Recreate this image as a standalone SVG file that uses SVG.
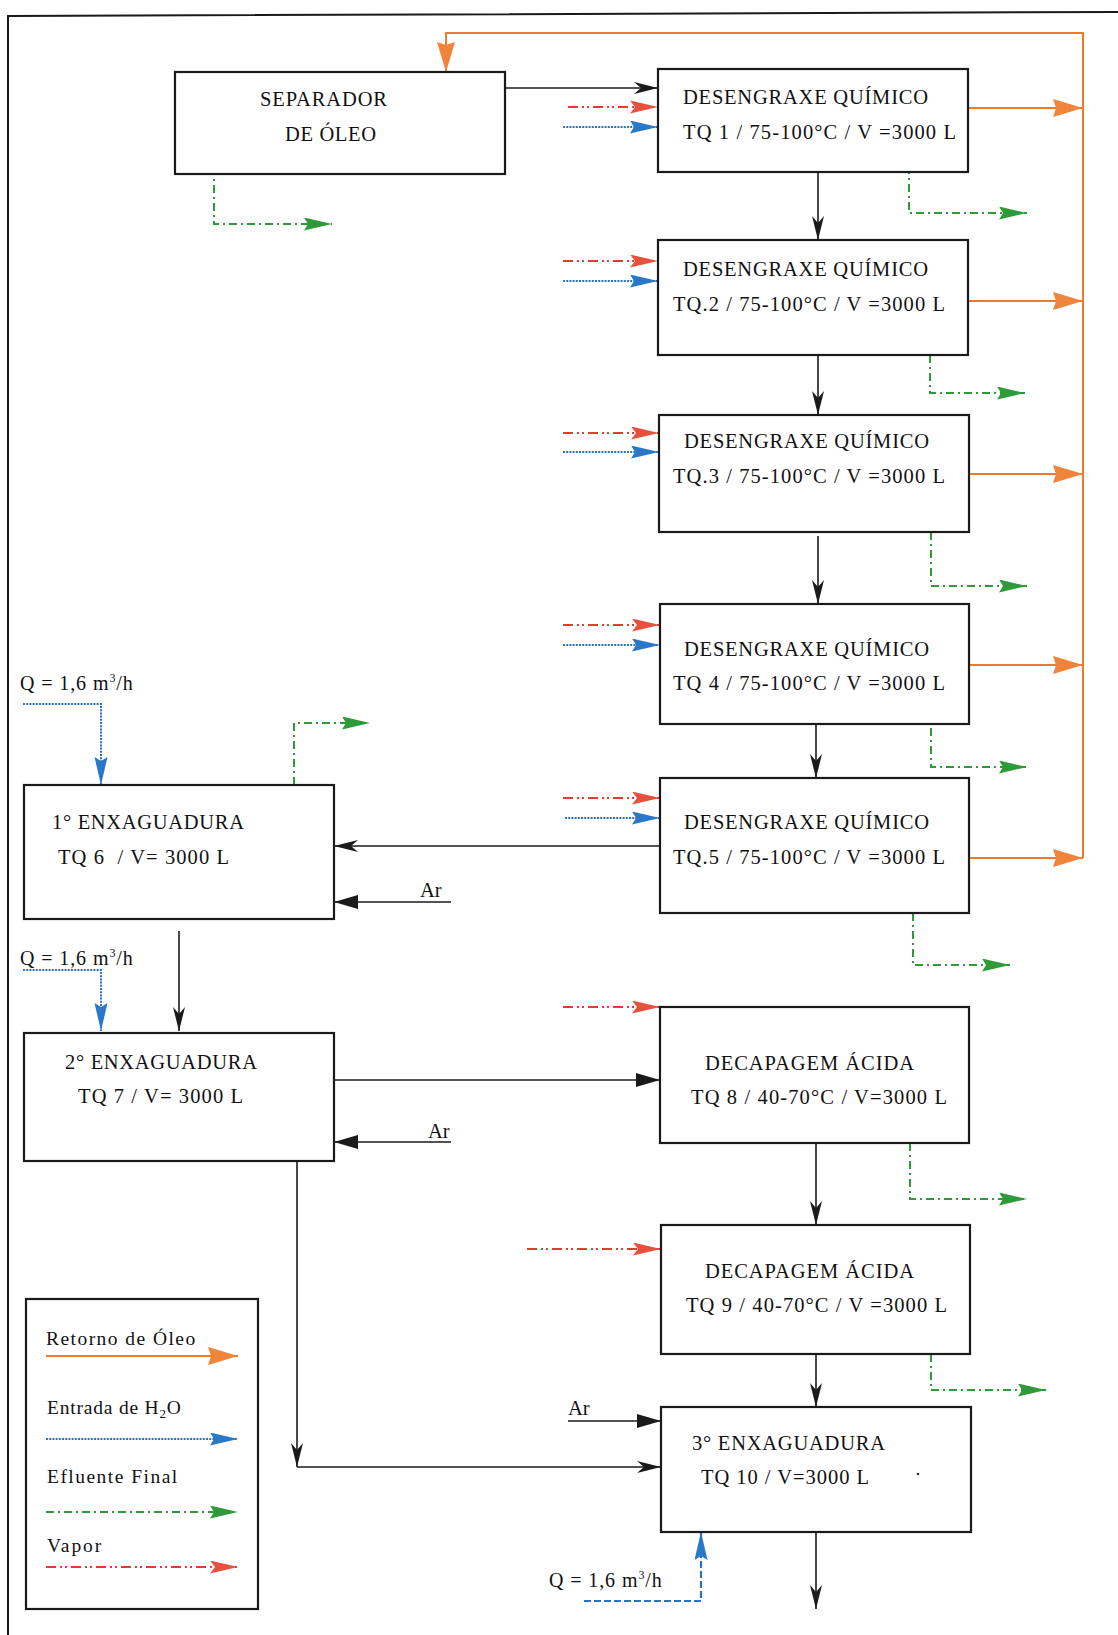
<svg xmlns="http://www.w3.org/2000/svg" width="1118" height="1635" viewBox="0 0 1118 1635">
  <style>
    .box { fill: #fff; stroke: #1a1a1a; stroke-width: 2.2; }
    .t { font-family: "Liberation Serif", "Times New Roman", serif; font-size: 20.5px; fill: #111; }
    .lg { font-family: "Liberation Serif", "Times New Roman", serif; font-size: 19.5px; fill: #111; letter-spacing: 0.8px; }
    .q { font-family: "Liberation Serif", "Times New Roman", serif; font-size: 20px; fill: #111; letter-spacing: 0.9px; }
    .blk { fill: none; stroke: #1a1a1a; stroke-width: 1.6; }
    .org { fill: none; stroke: #f07a28; stroke-width: 2; }
    .red { fill: none; stroke: #e23c30; stroke-width: 2; stroke-dasharray: 10 4 2 3 2 4; }
    .blu { fill: none; stroke: #2a72c6; stroke-width: 2; stroke-dasharray: 2 1.2; }
    .bld { fill: none; stroke: #2a72c6; stroke-width: 2.2; stroke-dasharray: 7 3; }
    .grn { fill: none; stroke: #2e9a3a; stroke-width: 2; stroke-dasharray: 8 4 2 4; }
  </style>
  <defs>
    <marker id="aOrg" markerUnits="userSpaceOnUse" markerWidth="32" markerHeight="20" refX="30" refY="9" orient="auto">
      <path d="M0,0 L30,9 L0,18 L3,9 z" fill="#f0843a"/>
    </marker>
    <marker id="aRed" markerUnits="userSpaceOnUse" markerWidth="30" markerHeight="14" refX="28" refY="6.5" orient="auto">
      <path d="M0,0 L28,6.5 L0,13 L5,6.5 z" fill="#e8503e"/>
    </marker>
    <marker id="aBlu" markerUnits="userSpaceOnUse" markerWidth="30" markerHeight="14" refX="28" refY="6.5" orient="auto">
      <path d="M0,0 L28,6.5 L0,13 L4,6.5 z" fill="#2a78c8"/>
    </marker>
    <marker id="aGrn" markerUnits="userSpaceOnUse" markerWidth="30" markerHeight="14" refX="28" refY="6.5" orient="auto">
      <path d="M0,0 L28,6.5 L0,13 L4,6.5 z" fill="#2e9a3a"/>
    </marker>
    <marker id="aBlk" markerUnits="userSpaceOnUse" markerWidth="26" markerHeight="14" refX="24" refY="6" orient="auto">
      <path d="M0,0 L24,6 L0,12 L7,6 z" fill="#1a1a1a"/>
    </marker>
    <marker id="aBlkF" markerUnits="userSpaceOnUse" markerWidth="26" markerHeight="16" refX="24" refY="7" orient="auto">
      <path d="M0,0 L24,7 L0,14 z" fill="#1a1a1a"/>
    </marker>
  </defs>

  <!-- page frame -->
  <path d="M8,1635 V16 L1118,12" fill="none" stroke="#1a1a1a" stroke-width="2"/>

  <!-- connectors -->
  <g id="connectors">
    <!-- oil return -->
    <path class="org" d="M1083,858 V33 H446 V72" marker-end="url(#aOrg)"/>
    <path class="org" d="M968,108 H1083" marker-end="url(#aOrg)"/>
    <path class="org" d="M968,301 H1083" marker-end="url(#aOrg)"/>
    <path class="org" d="M969,474 H1083" marker-end="url(#aOrg)"/>
    <path class="org" d="M969,665 H1083" marker-end="url(#aOrg)"/>
    <path class="org" d="M969,858 H1083" marker-end="url(#aOrg)"/>

    <!-- steam -->
    <path class="red" d="M568,107 H658" marker-end="url(#aRed)"/>
    <path class="red" d="M563,261 H658" marker-end="url(#aRed)"/>
    <path class="red" d="M563,433 H659" marker-end="url(#aRed)"/>
    <path class="red" d="M563,625 H660" marker-end="url(#aRed)"/>
    <path class="red" d="M563,798 H660" marker-end="url(#aRed)"/>
    <path class="red" d="M563,1007 H660" marker-end="url(#aRed)"/>
    <path class="red" d="M527,1249 H661" marker-end="url(#aRed)"/>

    <!-- water inlet -->
    <path class="blu" d="M563,127 H658" marker-end="url(#aBlu)"/>
    <path class="blu" d="M563,281 H658" marker-end="url(#aBlu)"/>
    <path class="blu" d="M563,452 H659" marker-end="url(#aBlu)"/>
    <path class="blu" d="M563,645 H660" marker-end="url(#aBlu)"/>
    <path class="blu" d="M565,818 H660" marker-end="url(#aBlu)"/>
    <path class="blu" d="M23,704 H101 V785" marker-end="url(#aBlu)"/>
    <path class="blu" d="M23,970 H101 V1031" marker-end="url(#aBlu)"/>
    <path class="bld" d="M584,1601 H701 V1532" marker-end="url(#aBlu)"/>

    <!-- final effluent -->
    <path class="grn" d="M214,167 V224 H332" marker-end="url(#aGrn)"/>
    <path class="grn" d="M909,166 V213 H1027" marker-end="url(#aGrn)"/>
    <path class="grn" d="M930,355 V393 H1025" marker-end="url(#aGrn)"/>
    <path class="grn" d="M931,532 V586 H1027" marker-end="url(#aGrn)"/>
    <path class="grn" d="M931,728 V767 H1027" marker-end="url(#aGrn)"/>
    <path class="grn" d="M913,913 V965 H1010" marker-end="url(#aGrn)"/>
    <path class="grn" d="M910,1143 V1199 H1027" marker-end="url(#aGrn)"/>
    <path class="grn" d="M931,1354 V1390 H1046" marker-end="url(#aGrn)"/>
    <path class="grn" d="M294,785 V723 H370" marker-end="url(#aGrn)"/>

    <!-- process flow -->
    <path class="blk" d="M505,88 H658" marker-end="url(#aBlk)"/>
    <path class="blk" d="M818,172 V240" marker-end="url(#aBlk)"/>
    <path class="blk" d="M818,355 V415" marker-end="url(#aBlk)"/>
    <path class="blk" d="M818,536 V604" marker-end="url(#aBlk)"/>
    <path class="blk" d="M816,724 V778" marker-end="url(#aBlk)"/>
    <path class="blk" d="M660,846 H334" marker-end="url(#aBlk)"/>
    <path class="blk" d="M451,902 H334" marker-end="url(#aBlkF)"/>
    <path class="blk" d="M179,931 V1031" marker-end="url(#aBlk)"/>
    <path class="blk" d="M334,1080 H660" marker-end="url(#aBlkF)"/>
    <path class="blk" d="M451,1142 H334" marker-end="url(#aBlkF)"/>
    <path class="blk" d="M297,1161 V1467" marker-end="url(#aBlk)"/>
    <path class="blk" d="M297,1467 H661" marker-end="url(#aBlk)"/>
    <path class="blk" d="M816,1143 V1225" marker-end="url(#aBlk)"/>
    <path class="blk" d="M816,1354 V1407" marker-end="url(#aBlk)"/>
    <path class="blk" d="M568,1421 H661" marker-end="url(#aBlkF)"/>
    <path class="blk" d="M816,1532 V1609" marker-end="url(#aBlk)"/>
  </g>

  <!-- free labels -->
  <g id="labels">
    <text class="q" x="20" y="690">Q = 1,6 m<tspan font-size="12" dy="-8">3</tspan><tspan dy="8">/h</tspan></text>
    <text class="q" x="20" y="965">Q = 1,6 m<tspan font-size="12" dy="-8">3</tspan><tspan dy="8">/h</tspan></text>
    <text class="q" x="549" y="1587">Q = 1,6 m<tspan font-size="12" dy="-8">3</tspan><tspan dy="8">/h</tspan></text>
    <text class="t" x="420" y="897" font-size="18">Ar</text>
    <text class="t" x="428" y="1138" font-size="18">Ar</text>
    <text class="t" x="568" y="1415" font-size="18">Ar</text>
  </g>

  <!-- nodes -->
  <g id="separador">
    <rect class="box" x="175" y="72" width="330" height="102"/>
    <text class="t" x="260" y="106" textLength="127" lengthAdjust="spacing">SEPARADOR</text>
    <text class="t" x="285" y="141" textLength="91" lengthAdjust="spacing">DE ÓLEO</text>
  </g>
  <g id="tq1">
    <rect class="box" x="658" y="69" width="310" height="103"/>
    <text class="t" x="683" y="104" textLength="245" lengthAdjust="spacing">DESENGRAXE QUÍMICO</text>
    <text class="t" x="683" y="139" textLength="273" lengthAdjust="spacing">TQ 1 / 75-100°C / V =3000 L</text>
  </g>
  <g id="tq2">
    <rect class="box" x="658" y="240" width="310" height="115"/>
    <text class="t" x="683" y="276" textLength="245" lengthAdjust="spacing">DESENGRAXE QUÍMICO</text>
    <text class="t" x="673" y="311" textLength="272" lengthAdjust="spacing">TQ.2 / 75-100°C / V =3000 L</text>
  </g>
  <g id="tq3">
    <rect class="box" x="659" y="415" width="310" height="117"/>
    <text class="t" x="684" y="448" textLength="245" lengthAdjust="spacing">DESENGRAXE QUÍMICO</text>
    <text class="t" x="673" y="483" textLength="272" lengthAdjust="spacing">TQ.3 / 75-100°C / V =3000 L</text>
  </g>
  <g id="tq4">
    <rect class="box" x="660" y="604" width="309" height="120"/>
    <text class="t" x="684" y="656" textLength="245" lengthAdjust="spacing">DESENGRAXE QUÍMICO</text>
    <text class="t" x="673" y="690" textLength="272" lengthAdjust="spacing">TQ 4 / 75-100°C / V =3000 L</text>
  </g>
  <g id="tq5">
    <rect class="box" x="660" y="778" width="309" height="135"/>
    <text class="t" x="684" y="829" textLength="245" lengthAdjust="spacing">DESENGRAXE QUÍMICO</text>
    <text class="t" x="673" y="864" textLength="272" lengthAdjust="spacing">TQ.5 / 75-100°C / V =3000 L</text>
  </g>
  <g id="enx1">
    <rect class="box" x="24" y="785" width="310" height="134"/>
    <text class="t" x="52" y="829" textLength="192" lengthAdjust="spacing">1° ENXAGUADURA</text>
    <text class="t" x="58" y="864" textLength="171" lengthAdjust="spacing" xml:space="preserve">TQ 6  / V= 3000 L</text>
  </g>
  <g id="enx2">
    <rect class="box" x="24" y="1033" width="310" height="128"/>
    <text class="t" x="65" y="1069" textLength="192" lengthAdjust="spacing">2° ENXAGUADURA</text>
    <text class="t" x="78" y="1103" textLength="165" lengthAdjust="spacing">TQ 7 / V= 3000 L</text>
  </g>
  <g id="tq8">
    <rect class="box" x="660" y="1007" width="309" height="136"/>
    <text class="t" x="705" y="1070" textLength="209" lengthAdjust="spacing">DECAPAGEM ÁCIDA</text>
    <text class="t" x="691" y="1104" textLength="256" lengthAdjust="spacing">TQ 8 / 40-70°C / V=3000 L</text>
  </g>
  <g id="tq9">
    <rect class="box" x="661" y="1225" width="309" height="129"/>
    <text class="t" x="705" y="1278" textLength="209" lengthAdjust="spacing">DECAPAGEM ÁCIDA</text>
    <text class="t" x="686" y="1312" textLength="261" lengthAdjust="spacing">TQ 9 / 40-70°C / V =3000 L</text>
  </g>
  <g id="enx3">
    <rect class="box" x="661" y="1407" width="310" height="125"/>
    <text class="t" x="692" y="1450" textLength="193" lengthAdjust="spacing">3° ENXAGUADURA</text>
    <text class="t" x="701" y="1484" textLength="168" lengthAdjust="spacing">TQ 10 / V=3000 L</text>
    <circle cx="918" cy="1474" r="1.3" fill="#333"/>
  </g>

  <!-- legend -->
  <g id="legend">
    <rect class="box" x="26" y="1299" width="232" height="310"/>
    <text class="lg" x="46" y="1345" textLength="150" lengthAdjust="spacing">Retorno de Óleo</text>
    <path class="org" d="M46,1356 H238" marker-end="url(#aOrg)"/>
    <text class="lg" x="47" y="1414">Entrada de H<tspan font-size="13" dy="4">2</tspan><tspan dy="-4">O</tspan></text>
    <path class="blu" d="M46,1439 H238" marker-end="url(#aBlu)"/>
    <text class="lg" x="47" y="1483" textLength="131" lengthAdjust="spacing">Efluente Final</text>
    <path class="grn" d="M46,1512 H238" marker-end="url(#aGrn)"/>
    <text class="lg" x="47" y="1552" textLength="55" lengthAdjust="spacing">Vapor</text>
    <path class="red" d="M46,1567 H238" marker-end="url(#aRed)"/>
  </g>
</svg>
